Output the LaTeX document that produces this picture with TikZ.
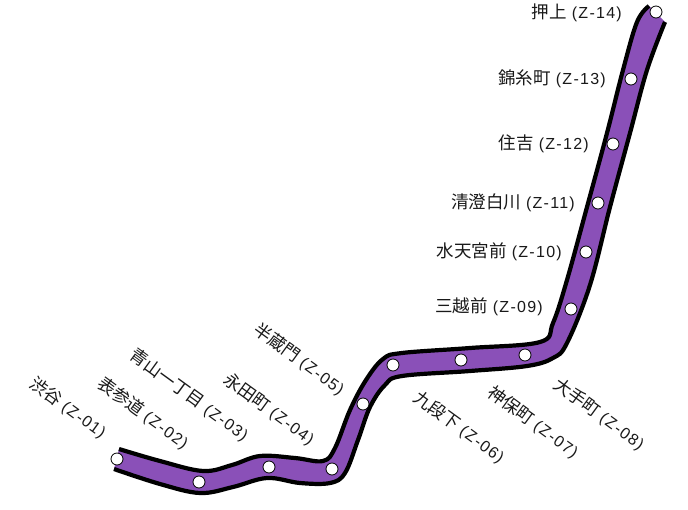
\documentclass[tikz,border=0pt]{standalone}
\usepackage{fontspec}
\setmainfont{Noto Sans CJK JP}
\newfontfamily\latinpart[LetterSpace=8]{Liberation Sans}
\newcommand{\code}[1]{{\latinpart\fontsize{16}{18}\selectfont\hspace{5pt}(Z-#1)}}
\definecolor{linepurple}{HTML}{8A50B8}
\tikzset{
  stn/.style={circle,draw=black,fill=white,line width=0.8pt,minimum size=12pt,inner sep=0pt},
  lbl/.style={font=\fontsize{17.5}{19}\selectfont,text=black!90,inner sep=0pt},
  dlbl/.style={lbl,rotate=-36},
  edgeline/.style={draw=black,line width=4.2pt}
}
\begin{document}
\begin{tikzpicture}[x=1pt,y=-1pt]
\useasboundingbox (0,0) rectangle (688,509);
\fill[linepurple] plot[smooth,tension=0.6] coordinates {(119,449)(160,461)(203,471)(232,465)(260,456)(295,458)(323,461)(335,448)(350,410)(366,380)(383,359)(402,353)(470,348)(540,342)(553,323)(567,280)(587,207)(607,133)(623,70)(637,22)(649,6)}
  -- (665,22) -- plot[smooth,tension=0.6] coordinates {(665,22)(647,70)(630,133)(610,207)(590,285)(567,343)(553,358)(527,366)(470,371)(402,376)(385,385)(370,407)(358,440)(345,473)(330,483)(300,483)(267,478)(233,487)(200,493)(160,484)(114,469)} -- cycle;
\draw[edgeline] plot[smooth,tension=0.6] coordinates {(119,449)(160,461)(203,471)(232,465)(260,456)(295,458)(323,461)(335,448)(350,410)(366,380)(383,359)(402,353)(470,348)(540,342)(553,323)(567,280)(587,207)(607,133)(623,70)(637,22)(649,6)};
\draw[edgeline] plot[smooth,tension=0.6] coordinates {(665,22)(647,70)(630,133)(610,207)(590,285)(567,343)(553,358)(527,366)(470,371)(402,376)(385,385)(370,407)(358,440)(345,473)(330,483)(300,483)(267,478)(233,487)(200,493)(160,484)(114,469)};
\node[stn] (s1) at (117,459) {};
\node[stn] (s2) at (199,482) {};
\node[stn] (s3) at (269,467) {};
\node[stn] (s4) at (332,469) {};
\node[stn] (s5) at (363,404) {};
\node[stn] (s6) at (393,365) {};
\node[stn] (s7) at (461,360) {};
\node[stn] (s8) at (525,355) {};
\node[stn] (s9) at (571,309) {};
\node[stn] (s10) at (586,252) {};
\node[stn] (s11) at (598,203) {};
\node[stn] (s12) at (613,144) {};
\node[stn] (s13) at (631,79) {};
\node[stn] (s14) at (656,12) {};
\node[dlbl] (l1) at (68,408) {渋谷\code{01}};
\node[dlbl] (l2) at (143,413) {表参道\code{02}};
\node[dlbl] (l3) at (189,395) {青山一丁目\code{03}};
\node[dlbl] (l4) at (269,409) {永田町\code{04}};
\node[dlbl] (l5) at (299,359) {半蔵門\code{05}};
\node[dlbl] (l6) at (459,427) {九段下\code{06}};
\node[dlbl] (l7) at (533,422) {神保町\code{07}};
\node[dlbl] (l8) at (599,414) {大手町\code{08}};
\node[lbl,anchor=east] (l9) at (543,307) {三越前\code{09}};
\node[lbl,anchor=east] (l10) at (562,252) {水天宮前\code{10}};
\node[lbl,anchor=east] (l11) at (575,203) {清澄白川\code{11}};
\node[lbl,anchor=east] (l12) at (589,144) {住吉\code{12}};
\node[lbl,anchor=east] (l13) at (606,79) {錦糸町\code{13}};
\node[lbl,anchor=east] (l14) at (622,13) {押上\code{14}};
\end{tikzpicture}
\end{document}
